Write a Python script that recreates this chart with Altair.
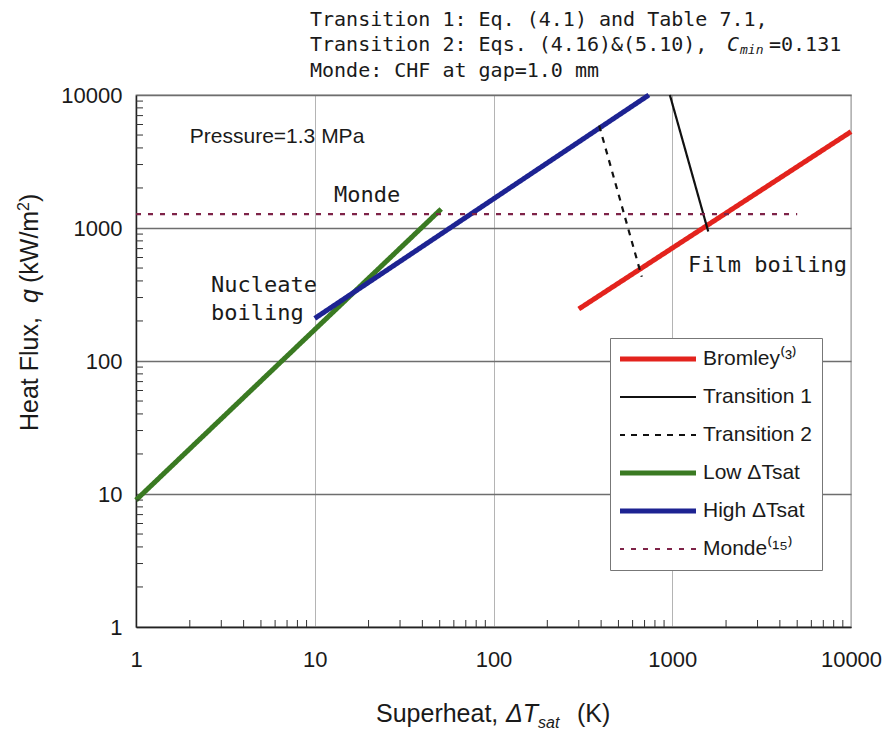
import altair as alt
import pandas as pd

# End points (superheat K, heat flux kW/m2) of each correlation line
bromley_dt = [300, 10000]
bromley_q = [246, 5300]
trans1_dt = [970, 1590]
trans1_q = [10000, 940]
trans2_dt = [390, 675]
trans2_q = [5900, 430]
low_dt = [1, 51]
low_q = [9, 1390]
high_dt = [10, 740]
high_q = [209, 10000]
monde_dt = [1, 5000]
monde_q = [1270, 1270]

series_names = ["Bromley⁽³⁾", "Transition 1", "Transition 2",
                "Low ΔTsat", "High ΔTsat", "Monde⁽¹⁵⁾"]
series_dt = [bromley_dt, trans1_dt, trans2_dt, low_dt, high_dt, monde_dt]
series_q = [bromley_q, trans1_q, trans2_q, low_q, high_q, monde_q]
thin_series = ["Transition 1", "Transition 2", "Monde⁽¹⁵⁾"]

# Annotations placed in data coordinates
note_labels = ["Monde", "Nucleate", "boiling", "Film boiling"]
note_dt = [12.8, 2.63, 2.63, 1225]
note_q = [1770, 373, 230, 527]
pressure_label = "Pressure=1.3 MPa"
pressure_dt, pressure_q = 2.0, 4830

major_ticks = [1, 10, 100, 1000, 10000]
minor_ticks = [k * 10 ** d for d in range(4) for k in range(2, 10)]

# styles per series
series_colors = ["#e3231d", "#111111", "#111111", "#3a7a22", "#1d2392", "#7e2348"]
series_dash = [[1, 0], [1, 0], [6, 6], [1, 0], [1, 0], [5, 7]]

rows = []
for name, xs, qs in zip(series_names, series_dt, series_q):
    for x, q in zip(xs, qs):
        rows.append({"series": name, "dt": x, "q": q})
lines_df = pd.DataFrame(rows)

notes_df = pd.DataFrame({"dt": note_dt, "q": note_q, "label": note_labels})
pressure_df = pd.DataFrame({"dt": [pressure_dt], "q": [pressure_q], "label": [pressure_label]})
x_minor_df = pd.DataFrame({"dt": minor_ticks})
y_minor_df = pd.DataFrame({"q": minor_ticks})
one = pd.DataFrame({"k": [0]})

SANS = "Liberation Sans"
MONO = "DejaVu Sans Mono"
INK = "#1a1a1a"

x_scale = alt.Scale(type="log", domain=[1, 10000])
y_scale = alt.Scale(type="log", domain=[1, 10000])

x_main = alt.X("dt:Q", scale=x_scale, axis=alt.Axis(
    values=major_ticks, format="d", title=None, grid=True, gridColor="#b4b4b4",
    gridWidth=1, ticks=False, labelFontSize=22, labelFont=SANS, labelColor=INK,
    labelPadding=22, domainColor="#222", domainWidth=1.5, labelFlush=False))
y_main = alt.Y("q:Q", scale=y_scale, axis=alt.Axis(
    values=major_ticks, format="d", title=None, grid=True, gridColor="#6e6e6e",
    gridWidth=1.4, ticks=False, labelFontSize=22, labelFont=SANS, labelColor=INK,
    labelPadding=14, domainColor="#222", domainWidth=1.5))
x_plain = alt.X("dt:Q", scale=x_scale)
y_plain = alt.Y("q:Q", scale=y_scale)

# legend line samples: thin for the transition / Monde curves, thick otherwise
width_expr = "indexof(" + str(thin_series) + ", datum.value) >= 0 ? 2.2 : 5"

color_enc = alt.Color(
    "series:N", sort=series_names,
    scale=alt.Scale(domain=series_names, range=series_colors),
    legend=alt.Legend(title=None, symbolStrokeWidth={"expr": width_expr}))
dash_enc = alt.StrokeDash(
    "series:N", sort=series_names,
    scale=alt.Scale(domain=series_names, range=series_dash),
    legend=alt.Legend(title=None, symbolStrokeWidth={"expr": width_expr}))

thick_lines = alt.Chart(lines_df).mark_line(strokeCap="butt", strokeWidth=5).encode(
    x=x_main, y=y_main, color=color_enc, strokeDash=dash_enc,
).transform_filter(alt.FieldOneOfPredicate(field="series", oneOf=[
    s for s in series_names if s not in thin_series]))
thin_lines = alt.Chart(lines_df).mark_line(strokeCap="butt", strokeWidth=2.2).encode(
    x=x_plain, y=y_plain, color=color_enc, strokeDash=dash_enc,
).transform_filter(alt.FieldOneOfPredicate(field="series", oneOf=thin_series))

# minor log ticks drawn inward from the left and bottom axes
y_minor = alt.Chart(y_minor_df).mark_rule(color="#333", strokeWidth=1).encode(
    y=y_plain, x=alt.value(0), x2=alt.value(7))
x_minor = alt.Chart(x_minor_df).mark_rule(color="#333", strokeWidth=1).encode(
    x=x_plain, y=alt.value(532), y2=alt.value(525))

notes = alt.Chart(notes_df).mark_text(
    align="left", baseline="middle", font=MONO, fontSize=22, color=INK).encode(
    x=x_plain, y=y_plain, text="label:N")
pressure = alt.Chart(pressure_df).mark_text(
    align="left", baseline="middle", font=SANS, fontSize=21, color=INK).encode(
    x=x_plain, y=y_plain, text="label:N")


def label(text, x, y, size, font=SANS, style="normal", angle=0, baseline="middle"):
    return alt.Chart(one).mark_text(
        align="left", baseline=baseline, font=font, fontSize=size,
        fontStyle=style, angle=angle, color=INK).encode(
        x=alt.value(x), y=alt.value(y), text=alt.value(text))


header = [
    label("Transition 1: Eq. (4.1) and Table 7.1,", 174, -75, 20, MONO),
    label("Transition 2: Eqs. (4.16)&(5.10),", 174, -50, 20, MONO),
    label("C", 591, -50, 20, MONO, "italic"),
    label("min", 604, -45, 13, MONO, "italic"),
    label("=0.131", 633, -50, 20, MONO),
    label("Monde: CHF at gap=1.0 mm", 174, -24, 20, MONO),
]

x_title = [
    label("Superheat,", 240, 627, 25, baseline="alphabetic"),
    label("ΔT", 370, 627, 25, style="italic", baseline="alphabetic"),
    label("sat", 402, 633, 16, style="italic", baseline="alphabetic"),
    label("(K)", 441, 627, 25, baseline="alphabetic"),
]

y_title = [
    label("Heat Flux,", -98, 336, 25, angle=270, baseline="alphabetic"),
    label("q", -98, 208, 25, style="italic", angle=270, baseline="alphabetic"),
    label("(kW/m", -98, 188, 25, angle=270, baseline="alphabetic"),
    label("2", -107, 116, 16, angle=270, baseline="alphabetic"),
    label(")", -98, 107, 25, angle=270, baseline="alphabetic"),
]

chart = alt.layer(
    thick_lines, thin_lines, y_minor, x_minor, notes, pressure,
    *header, *x_title, *y_title
).properties(
    width=715, height=532,
    autosize=alt.AutoSizeParams(type="none"),
    padding={"left": 136, "top": 95, "right": 32, "bottom": 108},
    background="white",
).configure_view(
    stroke="#8a8a8a", strokeWidth=1.3
).configure_legend(
    orient="none", legendX=474, legendY=243,
    symbolType="stroke", symbolSize=5929, clipHeight=22, symbolOffset=27,
    labelFont=SANS, labelFontSize=21, labelColor=INK, labelOffset=35, labelLimit=0,
    fillColor="white", strokeColor="#777", padding=10, rowPadding=16,
)

chart.save("out.html", embed_options={"renderer": "svg", "actions": False})
